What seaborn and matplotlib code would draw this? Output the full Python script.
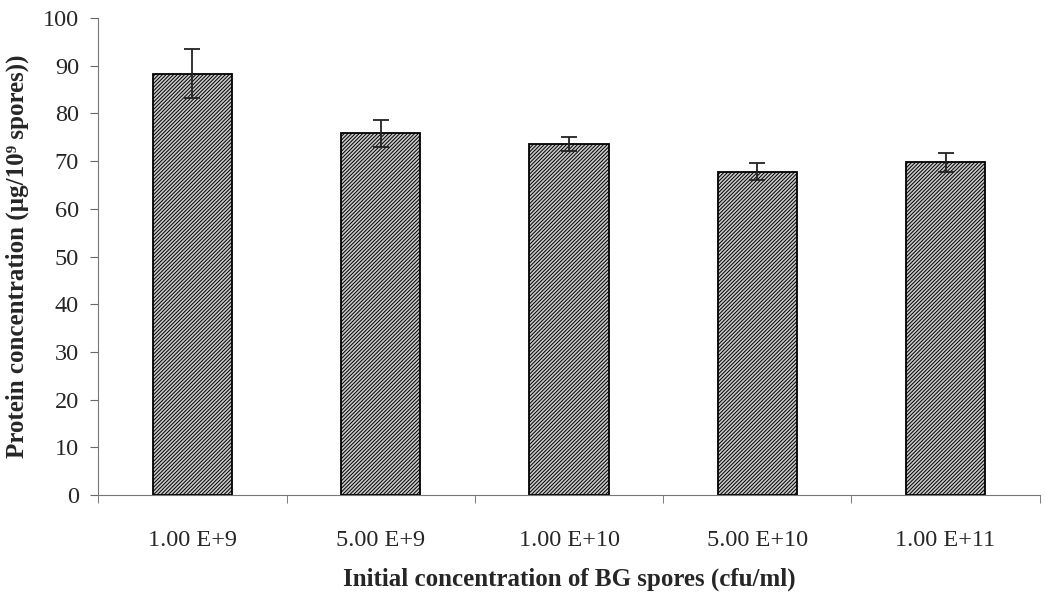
import numpy as np
import pandas as pd
import matplotlib
matplotlib.use("Agg")
import matplotlib.pyplot as plt
import seaborn as sns

# values
labels = ["1.00 E+9", "5.00 E+9", "1.00 E+10", "5.00 E+10", "1.00 E+11"]
protein = [88.3, 75.8, 73.6, 67.8, 69.8]
err = [5.1, 2.9, 1.5, 1.8, 2.0]

sns.set_style("ticks")
plt.rcParams["font.family"] = ["Liberation Serif", "DejaVu Serif"]
plt.rcParams["hatch.linewidth"] = 0.7

df = pd.DataFrame({"conc": labels, "protein": protein, "err": err})

fig = plt.figure(figsize=(10.46, 5.98), dpi=100)
ax = fig.add_axes([0.094, 0.172, 0.900, 0.798])

sns.barplot(data=df, x="conc", y="protein", color="#c8c8c8", width=0.42,
            edgecolor="black", linewidth=1.3, ax=ax)
for p in ax.patches:
    p.set_hatch("/////////")

ax.errorbar(np.arange(len(labels)), df.protein, yerr=df.err, fmt="none",
            ecolor="#222222", elinewidth=1.3, capsize=6, capthick=1.3)

ax.set_ylim(0, 100)
ax.set_yticks(np.arange(0, 101, 10))
ax.set_xlim(-0.5, len(labels) - 0.5)
ax.set_xticks(np.arange(-0.5, len(labels), 1.0), minor=True)
ax.tick_params(axis="x", which="major", length=0, labelsize=17.5, pad=25)
ax.tick_params(axis="x", which="minor", length=6, color="#666666")
ax.tick_params(axis="y", labelsize=17.5, length=6, color="#666666", pad=8)
sns.despine(ax=ax)
for s in ["left", "bottom"]:
    ax.spines[s].set_color("#777777")

ax.set_xlabel("Initial concentration of BG spores (cfu/ml)", fontsize=18,
              fontweight="bold", labelpad=12)
ax.set_ylabel("Protein concentration (\u00b5g/10\u2079 spores))",
              fontsize=18, fontweight="bold", labelpad=10)

fig.savefig("out.png", dpi=100)
